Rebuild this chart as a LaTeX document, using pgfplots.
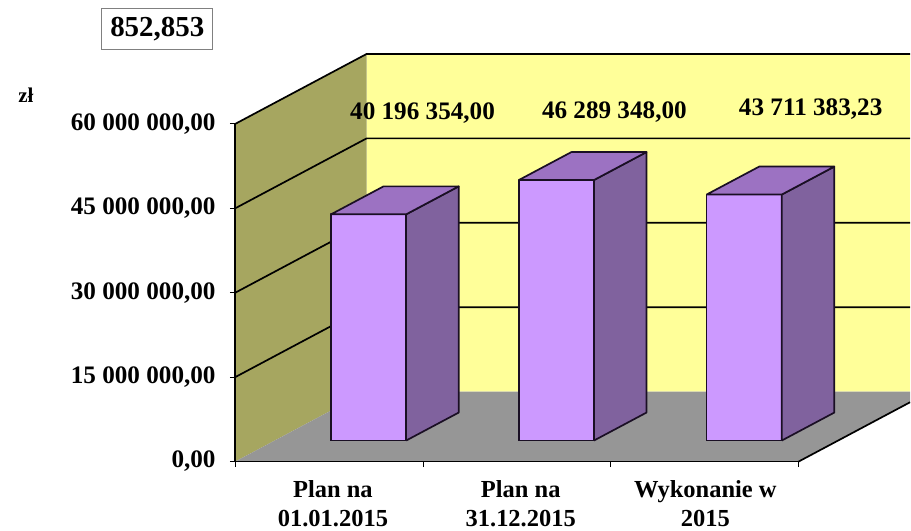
\documentclass[border=0pt]{standalone}
\usepackage{pgfplots}
\pgfplotsset{compat=1.18}
\usepackage{fontspec}
\setmainfont{Liberation Serif}
\definecolor{wallback}{HTML}{FFFF99}
\definecolor{wallside}{HTML}{A6A660}
\definecolor{floorc}{HTML}{969696}
\definecolor{barfront}{HTML}{CC99FF}
\definecolor{barside}{HTML}{80629E}
\definecolor{bartop}{HTML}{9C72C2}
\definecolor{edgec}{HTML}{1A0F24}
% c = position along the category axis, v = value in zl, d = depth (0 front, 1 back)
\pgfplotsset{table/depth3d/.style={x expr=\thisrow{c}+\thisrow{d}*0.6995, y expr=\thisrow{v}+\thisrow{d}*12426036}}
\newcommand\ThreeDBar[3]{%
  \addplot[fill=barfront,draw=edgec,line width=1.7pt,line join=round,no marks,sharp plot]
    table[depth3d,row sep=\\]{c v d\\ #1 0 0.3\\ #2 0 0.3\\ #2 #3 0.3\\ #1 #3 0.3\\ #1 0 0.3\\};
  \addplot[fill=barside,draw=edgec,line width=1.7pt,line join=round,no marks,sharp plot]
    table[depth3d,row sep=\\]{c v d\\ #2 0 0.3\\ #2 0 0.7\\ #2 #3 0.7\\ #2 #3 0.3\\ #2 0 0.3\\};
  \addplot[fill=bartop,draw=edgec,line width=1.7pt,line join=round,no marks,sharp plot]
    table[depth3d,row sep=\\]{c v d\\ #1 #3 0.3\\ #2 #3 0.3\\ #2 #3 0.7\\ #1 #3 0.7\\ #1 #3 0.3\\};
}
\newcommand\GridBack[1]{%
  \addplot[black,line width=1.7pt,no marks,sharp plot]
    table[depth3d,row sep=\\]{c v d\\ 0 #1 0\\ 0 #1 1\\ 2.894 #1 1\\};
}
\begin{document}
\begin{tikzpicture}
\begin{axis}[
  scale only axis, width=564pt, height=338pt,
  xmin=0, xmax=3, ymin=0, ymax=60000000,
  clip=false, axis on top,
  axis x line*=bottom, axis y line*=left,
  axis line style={-,line width=1.7pt,black},
  tick align=outside, major tick length=5.5pt,
  tick style={black,line width=0.8pt},
  xtick={0,1,2,3}, xticklabels={},
  extra x ticks={0.52,1.52,2.503},
  extra x tick labels={{Plan na\\01.01.2015},{Plan na\\31.12.2015},{Wykonanie w\\2015}},
  extra x tick style={major tick length=0pt,
    xticklabel style={align=center,yshift=-18.5pt}},
  ytick={0,15000000,30000000,45000000,60000000},
  yticklabels={{0,00},{15 000 000,00},{30 000 000,00},{45 000 000,00},{60 000 000,00}},
  yticklabel style={font=\bfseries\fontsize{25.2}{27}\selectfont,inner xsep=0pt,xshift=-14pt},
  xticklabel style={font=\bfseries\fontsize{24.5}{29.5}\selectfont,inner sep=0pt},
  scaled ticks=false,
]
% back wall
\addplot[fill=wallback,draw=none,no marks,sharp plot]
  table[depth3d,row sep=\\]{c v d\\ 0 0 1\\ 2.894 0 1\\ 2.894 60000000 1\\ 0 60000000 1\\ 0 0 1\\};
% side wall
\addplot[fill=wallside,draw=none,no marks,sharp plot]
  table[depth3d,row sep=\\]{c v d\\ 0 0 0\\ 0 0 1\\ 0 60000000 1\\ 0 60000000 0\\ 0 0 0\\};
% floor
\addplot[fill=floorc,draw=none,no marks,sharp plot]
  table[depth3d,row sep=\\]{c v d\\ 0 0 0\\ 3 0 0\\ 3 0 0.848\\ 2.894 0 1\\ 0 0 1\\ 0 0 0\\};
% floor edge at the right
\addplot[black,line width=1.7pt,no marks,sharp plot]
  table[depth3d,row sep=\\]{c v d\\ 3 0 0\\ 3 0 0.848\\};
% gridlines over the walls
\GridBack{15000000}
\GridBack{30000000}
\GridBack{45000000}
\GridBack{60000000}
% bars
\ThreeDBar{0.3}{0.7}{40196354}
\ThreeDBar{1.3}{1.7}{46289348}
\ThreeDBar{2.3}{2.7}{43711383.23}
% texts
\node[font=\bfseries\fontsize{25.2}{27}\selectfont] at (axis cs:0.9973,61952735) {40 196 354,00};
\node[font=\bfseries\fontsize{25.2}{27}\selectfont] at (axis cs:2.0186,62183500) {46 289 348,00};
\node[font=\bfseries\fontsize{25.2}{27}\selectfont] at (axis cs:3.0638,62716000) {43 711 383,23};
\node[draw=gray,line width=0.8pt,font=\bfseries\fontsize{29}{32}\selectfont,minimum width=111pt,minimum height=41pt,inner sep=0pt] at (axis cs:-0.4149,76864000) {852,853};
\node[font=\bfseries\fontsize{21}{22}\selectfont] at (axis cs:-1.1144,65148000) {zł};
% page extent
\path (axis cs:-1.2527,-12248521) rectangle (axis cs:3.593,82011834);
\end{axis}
\end{tikzpicture}
\end{document}
